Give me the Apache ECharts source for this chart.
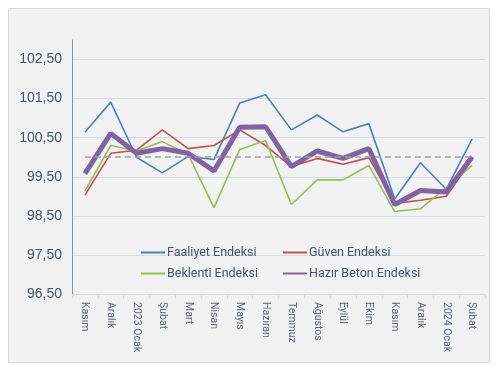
<!DOCTYPE html>
<html><head><meta charset="utf-8">
<script src="https://cdn.jsdelivr.net/npm/echarts@6/dist/echarts.min.js"></script>
<style>html,body{margin:0;padding:0;background:#fff}#c{width:500px;height:372px}</style>
</head><body><div id="c"></div>
<script>
const categories = ['Kasım','Aralık','2023 Ocak','Şubat','Mart','Nisan','Mayıs','Haziran','Temmuz','Ağustos','Eylül','Ekim','Kasım','Aralık','2024 Ocak','Şubat'];
const faaliyet  = [100.64,101.41,100.00,99.60,100.02,99.94,101.39,101.60,100.70,101.08,100.65,100.86,98.93,99.86,99.18,100.47];
const guven     = [99.03,100.10,100.18,100.70,100.22,100.30,100.70,100.30,99.76,99.97,99.82,99.99,98.82,98.90,99.00,99.94];
const beklenti  = [99.13,100.30,100.16,100.40,100.07,98.71,100.20,100.43,98.79,99.42,99.42,99.79,98.61,98.68,99.22,99.79];
const hazirBeton= [99.58,100.61,100.10,100.22,100.10,99.65,100.77,100.78,99.76,100.16,99.97,100.22,98.79,99.15,99.11,100.01];
const referenceLevel = 100;
const yMin = 96.5, yMax = 103, yStep = 1;

const chart = echarts.init(document.getElementById('c'), null, {renderer:'canvas'});
const font = 'Roboto, "Liberation Sans", sans-serif';
function line(name, data, color, width, z){
  return {name, type:'line', data, symbol:'none', showSymbol:false, z,
    lineStyle:{color, width}, itemStyle:{color}};
}
const s = [
  line('Faaliyet Endeksi', faaliyet, '#4f7fb8', 1.6, 3),
  line('Güven Endeksi', guven, '#c0504d', 1.6, 3),
  line('Beklenti Endeksi', beklenti, '#9bbb59', 1.6, 3),
  line('Hazır Beton Endeksi', hazirBeton, '#8064a2', 5, 4)
];
s[0].markLine = {silent:true, symbol:'none', label:{show:false},
  lineStyle:{color:'#a0a0a0', type:[6,4], width:1.5},
  data:[[{coord:[0, referenceLevel]},{coord:[categories.length-1, referenceLevel]}]]};

const legendCommon = {orient:'vertical', top:241, itemWidth:24, itemHeight:12, itemGap:8,
  itemStyle:{opacity:0, borderWidth:0},
  textStyle:{fontFamily:font, fontSize:12.5, color:'#44546a', padding:[0,0,0,-3]}};

chart.setOption({
  animation:false,
  backgroundColor:'#ffffff',
  graphic:[{type:'rect', z:-10, shape:{x:8.5,y:8.5,width:481,height:354},
    style:{fill:'#f2f2f2', stroke:'#d9d9d9', lineWidth:1}}],
  grid:{left:72, right:15, top:40, bottom:78},
  legend:[
    Object.assign({left:135, data:['Faaliyet Endeksi','Beklenti Endeksi']}, legendCommon),
    Object.assign({left:277, data:['Güven Endeksi','Hazır Beton Endeksi']}, legendCommon)
  ],
  xAxis:{type:'category', data:categories, boundaryGap:true,
    axisLine:{lineStyle:{color:'#d9d9d9'}},
    axisTick:{show:true, length:4, lineStyle:{color:'#d9d9d9'}},
    axisLabel:{rotate:-90, margin:8, fontFamily:font, fontSize:10.5, color:'#5b6678', interval:0}},
  yAxis:{type:'value', min:yMin, max:yMax, interval:yStep,
    axisLine:{show:true, lineStyle:{color:'#7f95b3', width:1}},
    axisTick:{show:false},
    splitLine:{show:true, showMaxLine:false, lineStyle:{color:'#d5dde8'}},
    axisLabel:{showMaxLabel:false, margin:10, fontFamily:'"Liberation Sans", sans-serif', fontSize:14, color:'#44546a',
      formatter:v=>v.toFixed(2).replace('.',',')}},
  series:s
});
</script></body></html>
